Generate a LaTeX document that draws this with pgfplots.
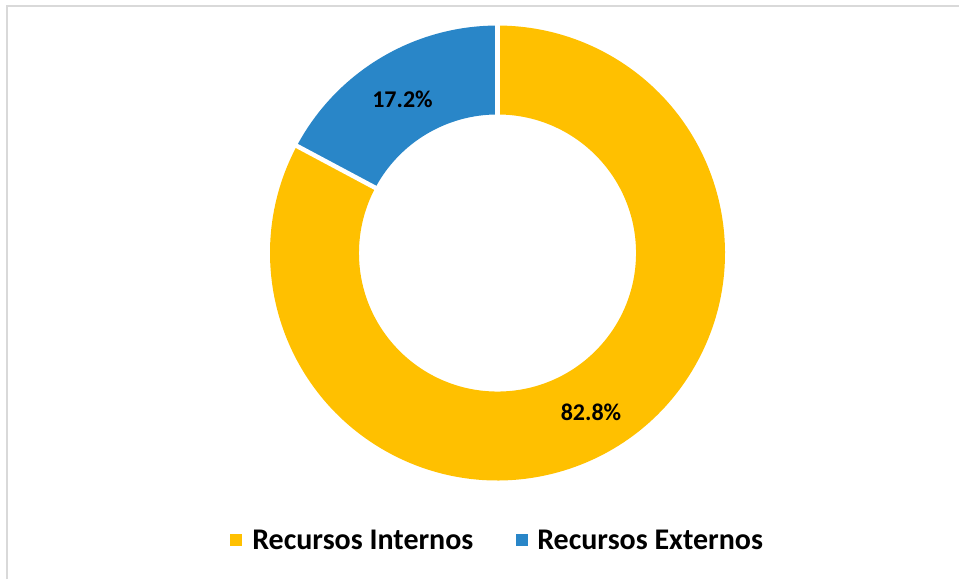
\documentclass[border=0pt]{standalone}
\usepackage{fontspec}
\setmainfont{Carlito}
\usepackage{pgfplots}
\usepackage{pgfplotstable}
\pgfplotsset{compat=1.18}
\usetikzlibrary{calc}

\definecolor{recint}{RGB}{255,192,0}
\definecolor{recext}{RGB}{41,134,200}
\definecolor{framegray}{RGB}{217,217,217}

% shares in percent
\pgfplotstableread{
share label
82.8 {Recursos Internos}
17.2 {Recursos Externos}
}\sharedata

\begin{document}
\begin{tikzpicture}
\pgfplotstablegetelem{0}{share}\of\sharedata \let\shareint\pgfplotsretval
\pgfplotstablegetelem{1}{share}\of\sharedata \let\shareext\pgfplotsretval
\pgfmathsetmacro{\aext}{90+3.6*\shareext}
\pgfmathsetmacro{\aint}{\aext+3.6*\shareint}
\def\Ro{170.6pt}
\def\Ri{103.9pt}
\begin{axis}[
    x=0.75pt, y=0.75pt,
    xmin=0, xmax=959, ymin=0, ymax=579,
    y dir=reverse,
    hide axis,
    clip=false,
]
\coordinate (bbA) at (axis cs:0,0);
\coordinate (bbB) at (axis cs:959,579);
% frame (only top and left edges visible)
\draw[framegray, line width=1.5pt] (axis cs:7,579) -- (axis cs:7,6) -- (axis cs:959,6);

% ── donut ───────────────────────────────────────────────
\fill[recext] ($(axis cs:497.5,253)+(90:\Ro)$) arc[start angle=90, end angle=\aext, radius=\Ro]
    -- ($(axis cs:497.5,253)+(\aext:\Ri)$) arc[start angle=\aext, end angle=90, radius=\Ri] -- cycle;
\fill[recint] ($(axis cs:497.5,253)+(\aext:\Ro)$) arc[start angle=\aext, end angle=\aint, radius=\Ro]
    -- ($(axis cs:497.5,253)+(\aint:\Ri)$) arc[start angle=\aint, end angle=\aext, radius=\Ri] -- cycle;
\draw[white, line width=3.4pt] ($(axis cs:497.5,253)+(90:98pt)$) -- ($(axis cs:497.5,253)+(90:176pt)$);
\draw[white, line width=3.4pt] ($(axis cs:497.5,253)+(\aext:98pt)$) -- ($(axis cs:497.5,253)+(\aext:176pt)$);

% ── data labels ─────────────────────────────────────────
\node[font=\fontsize{18}{21}\selectfont\bfseries, inner sep=0pt] at (axis cs:402.5,99) {\shareext\%};
\node[font=\fontsize{18}{21}\selectfont\bfseries, inner sep=0pt] at (axis cs:591,412.5) {\shareint\%};

% ── legend ──────────────────────────────────────────────
\fill[recint] (axis cs:230,534) rectangle (axis cs:242,546);
\node[anchor=west, inner sep=0pt, font=\fontsize{22.5}{27}\selectfont\bfseries] at (axis cs:252,540) {Recursos Internos};
\fill[recext] (axis cs:516,534) rectangle (axis cs:528,546);
\node[anchor=west, inner sep=0pt, font=\fontsize{22.5}{27}\selectfont\bfseries] at (axis cs:537,540) {Recursos Externos};
\end{axis}
\pgfresetboundingbox
\path[use as bounding box] (bbA) rectangle (bbB);
\end{tikzpicture}
\end{document}
